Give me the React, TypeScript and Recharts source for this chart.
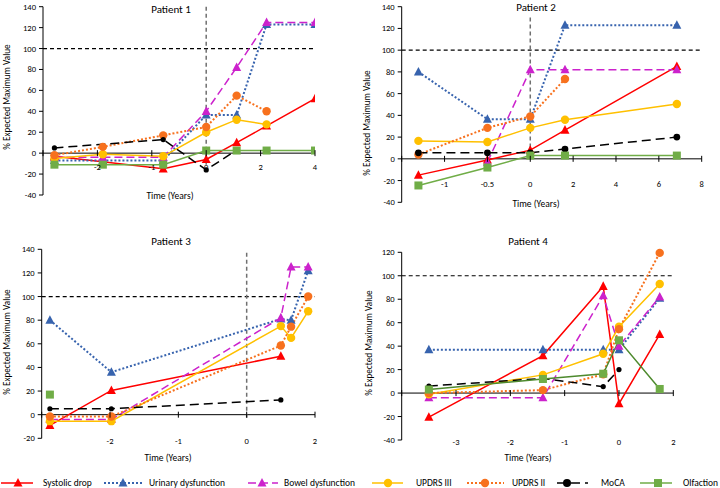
import React from 'react';
import { LineChart, Line, XAxis, YAxis, ReferenceLine } from 'recharts';

const FONT = 'Carlito, Calibri, Lato, "Liberation Sans", sans-serif';

// x values are positions on the drawn time axis: one unit per labelled tick
// (the axis is stretched after 0, so the labels are evenly spaced but not evenly valued)

// Patient 1
const p1Time = [-2.79, -1.9, -0.79, 0, 0.56, 1.11, 2];
const p1TickPos = [-3, -2, -1, 0, 1, 2];
const p1TickLabels = ['', '-2', '-1', '0', '2', '4'];
const p1Systolic = [-3, null, -15, -6, 10, 26, 52];
const p1Urinary = [-7, -7, -7, 36.5, 36.5, 123, 123];
const p1Bowel = [-4, -4, -4, 40, 82, 125, 125];
const p1Updrs3 = [-5, -1, -3, 20, 32, 27.5, null];
const p1Updrs2 = [-2, 6, 17, 25, 55, 40, null];
const p1Moca = [5, null, 13, -16, 3, null, null];
const p1Olfaction = [-11, -11, -11, 2.5, 2.5, 2.5, 2.5];

// Patient 2
const p2Time = [-2.61, -1, 0, 0.81, 3.42];
const p2TickPos = [-3, -2, -1, 0, 1, 2, 3, 4];
const p2TickLabels = ['', '-1', '-0.5', '0', '2', '4', '6', '8'];
const p2Systolic = [-15, -1, 8, 26.5, 85];
const p2Urinary = [80, 36.5, 36.5, 123, 123];
const p2Bowel = [null, -3, 82, 82, 82];
const p2Updrs3 = [16.5, 15.5, 28.5, 36, 50.5];
const p2Updrs2 = [4, 28.5, 39, 73.5, null];
const p2Moca = [5.5, 5.5, 5.5, 9, 20];
const p2Olfaction = [-24.5, -8, 3, 3, 3];

// Patient 3
const p3Time = [-2.88, -1.98, 0.5, 0.65, 0.9];
const p3TickPos = [-3, -2, -1, 0, 1];
const p3TickLabels = ['', '-2', '-1', '0', '2'];
const p3Systolic = [-9, 20.5, 49.5, null, null];
const p3Urinary = [80, 36, 81, 80, 122];
const p3Bowel = [-4, -4, 82, 125, 125];
const p3Updrs3 = [-5.5, -5.5, 75, 65, 87.5];
const p3Updrs2 = [-1.5, -1.5, 58.5, 74.5, 100];
const p3Moca = [5, 5, 12.5, null, null];
const p3Olfaction = [17, null, null, null, null];

// Patient 4
const p4Time = [-3.5, -1.4, -0.29, 0, 0.75];
const p4TickPos = [-4, -3, -2, -1, 0, 1];
const p4TickLabels = ['', '-3', '-2', '-1', '0', '2'];
const p4Systolic = [-20.5, 32, 91, -9, 50];
const p4Urinary = [37, 37, 37, 37, 81];
const p4Bowel = [-4, -4, 83, 40, 82];
const p4Updrs3 = [-1, 15.5, 33.5, 56.5, 93];
const p4Updrs2 = [0, 2.5, 16, 54.5, 119.5];
const p4Moca = [6, 12.5, 5.5, 20, null];
const p4Olfaction = [3, 12, 16.5, 45, 3.5];

const SERIES = [
  { key: 'systolic', name: 'Systolic drop', color: '#FF0000', dash: undefined, width: 1.5, shape: 'triangle' },
  { key: 'urinary', name: 'Urinary dysfunction', color: '#3763AE', dash: '2 2', width: 2, shape: 'triangle' },
  { key: 'bowel', name: 'Bowel dysfunction', color: '#CC22CC', dash: '8 4', width: 1.5, shape: 'triangle' },
  { key: 'updrs3', name: 'UPDRS III', color: '#FFC000', dash: undefined, width: 1.5, shape: 'circle' },
  { key: 'updrs2', name: 'UPDRS II', color: '#F7711E', dash: '2 2', width: 2, shape: 'circle' },
  { key: 'moca', name: 'MoCA', color: '#000000', dash: '9 5', width: 1.5, shape: 'dot' },
  { key: 'olfaction', name: 'Olfaction', color: '#70AD47', dash: undefined, width: 1.5, shape: 'square' },
];

const buildRows = (time: number[], cols: Record<string, (number | null)[]>) =>
  time.map((t, i) => {
    const row: Record<string, number | null> = { t };
    Object.keys(cols).forEach((k) => (row[k] = cols[k][i]));
    return row;
  });

const panels = [
  {
    title: 'Patient 1', left: 0, top: 0,
    rows: buildRows(p1Time, { systolic: p1Systolic, urinary: p1Urinary, bowel: p1Bowel, updrs3: p1Updrs3, updrs2: p1Updrs2, moca: p1Moca, olfaction: p1Olfaction }),
    tickPos: p1TickPos, tickLabels: p1TickLabels, yMin: -40, yMax: 140, vLine: [140, -20],
    plot: { l: 43, r: 315, t: 6.7, b: 195 }, tickY: 167.5, titleXY: [171, 9], xLabXY: [170, 196], yLabXY: [6, 97], dotR: 2.6,
  },
  {
    title: 'Patient 2', left: 360, top: 0,
    rows: buildRows(p2Time, { systolic: p2Systolic, urinary: p2Urinary, bowel: p2Bowel, updrs3: p2Updrs3, updrs2: p2Updrs2, moca: p2Moca, olfaction: p2Olfaction }),
    tickPos: p2TickPos, tickLabels: p2TickLabels, yMin: -40, yMax: 140, vLine: [130, 0],
    plot: { l: 41.7, r: 341.7, t: 6.7, b: 202.3 }, tickY: 184, titleXY: [176, 6.5], xLabXY: [176, 204], yLabXY: [6, 123], dotR: 3.4,
  },
  {
    title: 'Patient 3', left: 0, top: 230,
    rows: buildRows(p3Time, { systolic: p3Systolic, urinary: p3Urinary, bowel: p3Bowel, updrs3: p3Updrs3, updrs2: p3Updrs2, moca: p3Moca, olfaction: p3Olfaction }),
    tickPos: p3TickPos, tickLabels: p3TickLabels, yMin: -20, yMax: 140, vLine: [137, -3],
    plot: { l: 41.7, r: 315, t: 19.3, b: 208.3 }, tickY: 211, titleXY: [171, 10.7], xLabXY: [168, 228], yLabXY: [6, 112], dotR: 2.6,
  },
  {
    title: 'Patient 4', left: 360, top: 230,
    rows: buildRows(p4Time, { systolic: p4Systolic, urinary: p4Urinary, bowel: p4Bowel, updrs3: p4Updrs3, updrs2: p4Updrs2, moca: p4Moca, olfaction: p4Olfaction }),
    tickPos: p4TickPos, tickLabels: p4TickLabels, yMin: -40, yMax: 120, vLine: [129, 0],
    plot: { l: 41.7, r: 313.3, t: 22.3, b: 210 }, tickY: 211.7, titleXY: [168, 10.7], xLabXY: [168, 228], yLabXY: [8, 113], dotR: 2.6,
    olfLine: '#4E8A2E',
  },
];

const Marker = ({ shape, x, y, color, dotR }: any) => {
  if (shape === 'triangle') {
    const s = 9;
    return <polygon points={`${x},${y - s * 0.55} ${x + s / 2},${y + s * 0.4} ${x - s / 2},${y + s * 0.4}`} fill={color} />;
  }
  if (shape === 'circle') return <circle cx={x} cy={y} r={4.2} fill={color} />;
  if (shape === 'square') return <rect x={x - 4} y={y - 4} width={8} height={8} fill={color} />;
  return <circle cx={x} cy={y} r={dotR} fill={color} />;
};

const makeDot = (shape: string, color: string, dotR: number) => (props: any) => {
  const { cx, cy, index, value } = props;
  if (value == null || cx == null || cy == null) return <g key={`d-${index}`} />;
  return (
    <g key={`d-${index}`}>
      <Marker shape={shape} x={cx} y={cy} color={color} dotR={dotR} />
    </g>
  );
};

const W = 360;
const H = 230;
const Y_AXIS_W = 40;

const Panel = ({ p }: any) => {
  const { plot } = p;
  const zeroY = plot.t + ((p.yMax - 0) / (p.yMax - p.yMin)) * (plot.b - plot.t);
  const yTicks: number[] = [];
  for (let v = p.yMin; v <= p.yMax; v += 20) yTicks.push(v);

  const XTick = (props: any) => {
    const { x, payload } = props;
    const i = p.tickPos.indexOf(payload.value);
    return (
      <g>
        <line x1={x} x2={x} y1={zeroY - 3} y2={zeroY + 3} stroke="#000" strokeWidth={1} />
        <text x={x} y={p.tickY} dy="0.35em" textAnchor="middle" fontSize={8.5} fontFamily={FONT} fill="#000">
          {p.tickLabels[i]}
        </text>
      </g>
    );
  };

  return (
    <div style={{ position: 'absolute', left: p.left, top: p.top, width: W, height: H }}>
      <LineChart
        width={W}
        height={H}
        data={p.rows}
        margin={{ top: plot.t, right: W - plot.r, left: plot.l - Y_AXIS_W, bottom: H - plot.b - 1 }}
        style={{ overflow: 'visible' }}
      >
        <XAxis
          type="number"
          dataKey="t"
          domain={[p.tickPos[0], p.tickPos[p.tickPos.length - 1]]}
          ticks={p.tickPos}
          interval={0}
          height={1}
          axisLine={false}
          tickLine={false}
          tick={XTick}
          allowDataOverflow
        />
        <YAxis
          type="number"
          domain={[p.yMin, p.yMax]}
          ticks={yTicks}
          interval={0}
          width={Y_AXIS_W}
          axisLine={{ stroke: '#000', strokeWidth: 1 }}
          tickLine={{ stroke: '#000' }}
          tickSize={4}
          tickMargin={3}
          tick={{ fontSize: 8.5, fontFamily: FONT, fill: '#000' }}
        />
        <ReferenceLine y={0} stroke="#000" strokeWidth={1} />
        <ReferenceLine y={100} stroke="#000" strokeWidth={1.2} strokeDasharray="4 3" />
        <ReferenceLine
          segment={[{ x: 0, y: p.vLine[0] }, { x: 0, y: p.vLine[1] }]}
          stroke="#707070"
          strokeWidth={1.5}
          strokeDasharray="4 3"
        />
        {SERIES.map((s) => (
          <Line
            key={s.key}
            type="linear"
            dataKey={s.key}
            stroke={s.key === 'olfaction' && p.olfLine ? p.olfLine : s.color}
            strokeWidth={s.width}
            strokeDasharray={s.dash}
            dot={makeDot(s.shape, s.color, p.dotR)}
            activeDot={false}
            connectNulls
            isAnimationActive={false}
          />
        ))}
      </LineChart>
      <div style={{ position: 'absolute', left: p.titleXY[0], top: p.titleXY[1], transform: 'translate(-50%, -50%)', fontFamily: FONT, fontSize: 11, color: '#000', whiteSpace: 'nowrap', lineHeight: 1 }}>
        {p.title}
      </div>
      <div style={{ position: 'absolute', left: p.xLabXY[0], top: p.xLabXY[1], transform: 'translate(-50%, -50%)', fontFamily: FONT, fontSize: 9.5, color: '#000', whiteSpace: 'nowrap' }}>
        Time (Years)
      </div>
      <div style={{ position: 'absolute', left: p.yLabXY[0], top: p.yLabXY[1], transform: 'translate(-50%, -50%) rotate(-90deg)', fontFamily: FONT, fontSize: 9.2, color: '#000', whiteSpace: 'nowrap' }}>
        % Expected Maximum Value
      </div>
    </div>
  );
};

// legend layout: icon span and text start, in page pixels
const legendPos = [
  { x0: 1, x1: 33, m: 18, tx: 43 },
  { x0: 104, x1: 142, m: 123, tx: 149 },
  { x0: 248, x1: 278, m: 262, tx: 284 },
  { x0: 372, x1: 403, m: 388, tx: 416 },
  { x0: 467, x1: 504, m: 485, tx: 512 },
  { x0: 557, x1: 588, m: 567, tx: 601 },
  { x0: 640, x1: 672, m: 658, tx: 683 },
];

const Legend = () => (
  <svg width={720} height={20} style={{ position: 'absolute', left: 0, top: 473 }}>
    {SERIES.map((s, i) => {
      const lp = legendPos[i];
      return (
        <g key={s.key}>
          <line x1={lp.x0} x2={lp.x1} y1={10} y2={10} stroke={s.color} strokeWidth={s.width} strokeDasharray={s.dash} />
          <Marker shape={s.shape} x={lp.m} y={10} color={s.color} dotR={4} />
          <text x={lp.tx} y={10} dy="0.35em" fontSize={9.5} fontFamily={FONT} fill="#000">
            {s.name}
          </text>
        </g>
      );
    })}
  </svg>
);

export default function App() {
  return (
    <div style={{ position: 'absolute', left: 0, top: 0, width: 720, height: 488, background: '#fff', overflow: 'hidden' }}>
      {panels.map((p) => (
        <Panel key={p.title} p={p} />
      ))}
      <Legend />
    </div>
  );
}
